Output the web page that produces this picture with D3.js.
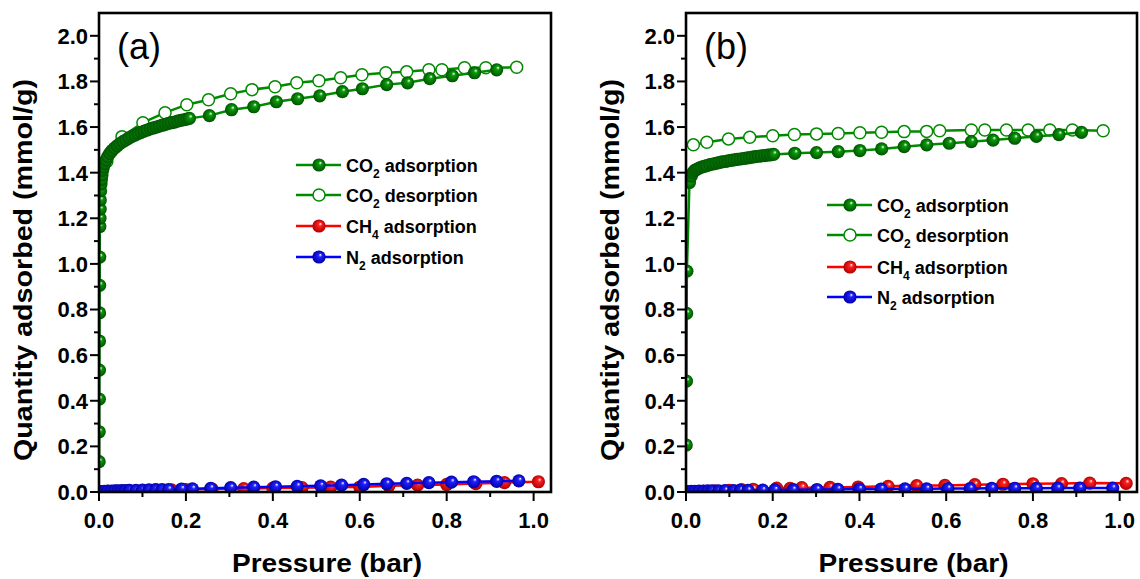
<!DOCTYPE html>
<html>
<head>
<meta charset="utf-8">
<script src="https://cdn.jsdelivr.net/npm/d3@7"></script>
<style>
    body { margin: 0; background: #fff; }
    svg text { font-family: "Liberation Sans", Arial, sans-serif; }
</style>
</head>
<body>
<svg id="chart" width="1140" height="579"></svg>
<script>
// ---- values: [pressure (bar), quantity (mmol/g)] ----
var xTicks = [0, 0.2, 0.4, 0.6, 0.8, 1.0];
var yTicks = [0, 0.2, 0.4, 0.6, 0.8, 1.0, 1.2, 1.4, 1.6, 1.8, 2.0];

// panel (a)
var aCO2Ads = [
    [0.0003,0.133],[0.0005,0.264],[0.0007,0.407],[0.0009,0.534],[0.0011,0.662],[0.0013,0.785],
    [0.0015,0.906],[0.0017,1.030],[0.0019,1.164],[0.0022,1.20],[0.0026,1.24],[0.003,1.28],
    [0.0036,1.32],[0.0045,1.35],[0.0055,1.37],[0.0068,1.39],[0.0082,1.41],[0.010,1.425],
    [0.013,1.44],[0.016,1.455],[0.020,1.47],[0.025,1.485],[0.030,1.497],[0.036,1.508],
    [0.042,1.518],[0.048,1.527],[0.055,1.536],[0.062,1.544],[0.069,1.552],[0.076,1.559],
    [0.083,1.565],[0.090,1.571],[0.097,1.577],[0.104,1.582],[0.111,1.587],[0.118,1.592],
    [0.125,1.596],[0.132,1.600],[0.139,1.604],[0.146,1.608],[0.153,1.612],[0.160,1.616],
    [0.167,1.619],[0.174,1.622],[0.181,1.626],[0.188,1.629],[0.195,1.632],[0.202,1.635],
    [0.208,1.638],[0.254,1.650],[0.305,1.676],[0.356,1.689],[0.408,1.711],[0.457,1.724],
    [0.508,1.737],[0.560,1.755],[0.606,1.768],[0.662,1.786],[0.710,1.794],[0.761,1.812],
    [0.813,1.825],[0.864,1.838],[0.915,1.851]
];
var aCO2Des = [
    [0.018,1.449],[0.053,1.558],[0.101,1.619],[0.152,1.663],[0.202,1.698],[0.252,1.720],
    [0.303,1.746],[0.352,1.764],[0.405,1.777],[0.455,1.794],[0.506,1.803],[0.556,1.816],
    [0.605,1.829],[0.660,1.838],[0.708,1.842],[0.759,1.851],[0.789,1.851],[0.841,1.860],
    [0.890,1.860],[0.961,1.862]
];
var aCH4 = [
    [0.005,0.001],[0.02,0.003],[0.04,0.004],[0.067,0.005],[0.10,0.006],[0.133,0.008],
    [0.167,0.009],[0.20,0.011],[0.26,0.013],[0.333,0.015],[0.40,0.017],[0.467,0.019],
    [0.533,0.021],[0.60,0.022],[0.667,0.027],[0.733,0.030],[0.80,0.033],[0.867,0.037],
    [0.933,0.041],[1.011,0.045]
];
var aN2 = [
    [0.004,0.002],[0.012,0.003],[0.02,0.004],[0.028,0.004],[0.036,0.005],[0.044,0.005],
    [0.052,0.006],[0.06,0.006],[0.07,0.007],[0.085,0.007],[0.10,0.008],[0.115,0.009],
    [0.13,0.010],[0.145,0.010],[0.16,0.011],[0.19,0.013],[0.215,0.014],[0.257,0.016],
    [0.303,0.019],[0.356,0.021],[0.406,0.023],[0.456,0.025],[0.51,0.027],[0.558,0.030],
    [0.609,0.033],[0.662,0.036],[0.708,0.038],[0.759,0.041],[0.811,0.043],[0.862,0.045],
    [0.915,0.047],[0.966,0.049]
];

// panel (b)
var bCO2Ads = [
    [0.0005,0.206],[0.001,0.486],[0.0015,0.783],[0.002,0.968],[0.008,1.357],[0.012,1.385],
    [0.016,1.400],[0.020,1.410],[0.025,1.415],[0.030,1.420],[0.036,1.424],[0.042,1.428],
    [0.048,1.431],[0.055,1.435],[0.062,1.438],[0.069,1.441],[0.076,1.444],[0.083,1.447],
    [0.090,1.449],[0.097,1.452],[0.104,1.454],[0.111,1.456],[0.118,1.458],[0.125,1.460],
    [0.132,1.462],[0.139,1.464],[0.146,1.466],[0.153,1.468],[0.160,1.470],[0.167,1.472],
    [0.174,1.474],[0.181,1.475],[0.188,1.477],[0.195,1.478],[0.202,1.480],[0.251,1.485],
    [0.301,1.488],[0.351,1.492],[0.401,1.497],[0.451,1.504],[0.503,1.514],[0.555,1.522],
    [0.607,1.529],[0.658,1.536],[0.708,1.543],[0.758,1.551],[0.808,1.559],[0.860,1.567],
    [0.912,1.577]
];
var bCO2Des = [
    [0.017,1.522],[0.048,1.533],[0.098,1.548],[0.147,1.555],[0.200,1.562],[0.250,1.567],
    [0.301,1.570],[0.351,1.572],[0.401,1.575],[0.451,1.577],[0.503,1.580],[0.555,1.581],
    [0.585,1.584],[0.658,1.587],[0.689,1.587],[0.739,1.587],[0.789,1.587],[0.839,1.587],
    [0.891,1.587],[0.962,1.584]
];
var bCH4 = [
    [0.005,0.001],[0.02,0.002],[0.04,0.003],[0.067,0.005],[0.10,0.007],[0.128,0.010],
    [0.155,0.012],[0.209,0.017],[0.24,0.016],[0.267,0.019],[0.332,0.020],[0.397,0.022],
    [0.466,0.025],[0.532,0.028],[0.597,0.029],[0.666,0.032],[0.731,0.034],[0.80,0.036],
    [0.866,0.037],[0.931,0.039],[1.015,0.038]
];
var bN2 = [
    [0.004,0.002],[0.012,0.003],[0.02,0.003],[0.03,0.004],[0.04,0.004],[0.05,0.005],
    [0.06,0.005],[0.075,0.005],[0.09,0.006],[0.11,0.006],[0.125,0.007],[0.143,0.007],
    [0.177,0.008],[0.205,0.009],[0.247,0.010],[0.302,0.011],[0.35,0.012],[0.40,0.013],
    [0.45,0.013],[0.505,0.014],[0.555,0.014],[0.604,0.015],[0.655,0.015],[0.705,0.016],
    [0.758,0.016],[0.808,0.016],[0.857,0.017],[0.908,0.017],[0.984,0.017]
];

var GREEN = "#008a00", RED = "#ff0000", BLUE = "#0000ff";

var svg = d3.select("#chart");
var defs = svg.append("defs");

// shaded "ball" symbols
function ball(id, base, dark) {
    var g = defs.append("radialGradient").attr("id", id)
        .attr("cx", 0.5).attr("cy", 0.5).attr("r", 0.5)
        .attr("fx", 0.62).attr("fy", 0.32);
    g.append("stop").attr("offset", "0%").attr("stop-color", "#ffffff");
    g.append("stop").attr("offset", "28%").attr("stop-color", base);
    g.append("stop").attr("offset", "100%").attr("stop-color", dark);
}
ball("gGreen", "#0a9a0a", "#005200");
ball("gRed", "#ff2020", "#b00000");
ball("gBlue", "#2020ff", "#0000a8");

function drawPanel(p) {
    var x = d3.scaleLinear().domain([0, 1.04]).range([p.left, p.right]);
    var y = d3.scaleLinear().domain([0, 2.1]).range([p.bottom, p.top]);

    var clipId = "clip" + p.name;
    defs.append("clipPath").attr("id", clipId).append("rect")
        .attr("x", p.left).attr("y", p.top)
        .attr("width", p.right - p.left).attr("height", p.bottom - p.top);

    var plot = svg.append("g").attr("clip-path", "url(#" + clipId + ")");
    var line = d3.line().x(function(d) { return x(d[0]); }).y(function(d) { return y(d[1]); });

    // legend order
    var series = [
        {name: ["CO", "2", " adsorption"], data: p.ads, color: GREEN, fill: "url(#gGreen)"},
        {name: ["CO", "2", " desorption"], data: p.des, color: GREEN, fill: "#fff", open: true},
        {name: ["CH", "4", " adsorption"], data: p.ch4, color: RED, fill: "url(#gRed)"},
        {name: ["N", "2", " adsorption"], data: p.n2, color: BLUE, fill: "url(#gBlue)"}
    ];
    // drawing order: desorption underneath adsorption
    [series[1], series[0], series[2], series[3]].forEach(function(s) {
        plot.append("path").datum(s.data).attr("d", line)
            .attr("fill", "none").attr("stroke", s.color).attr("stroke-width", 2.5);
        plot.selectAll(null).data(s.data).enter().append("circle")
            .attr("cx", function(d) { return x(d[0]); })
            .attr("cy", function(d) { return y(d[1]); })
            .attr("r", s.open ? 6 : 6.6)
            .attr("fill", s.fill)
            .attr("stroke", s.open ? s.color : "none")
            .attr("stroke-width", 1.5);
    });

    // axes
    var yMinor = d3.range(0.1, 2.05, 0.2);
    var xMinor = d3.range(0.1, 1.04, 0.2);
    var ax = svg.append("g").attr("stroke", "#000").attr("stroke-width", 2);
    ax.selectAll(null).data(yTicks).enter().append("line")
        .attr("x1", p.left - 9).attr("x2", p.left)
        .attr("y1", function(d) { return y(d); }).attr("y2", function(d) { return y(d); });
    ax.selectAll(null).data(yMinor).enter().append("line")
        .attr("x1", p.left - 5).attr("x2", p.left)
        .attr("y1", function(d) { return y(d); }).attr("y2", function(d) { return y(d); });
    ax.selectAll(null).data(xTicks).enter().append("line")
        .attr("y1", p.bottom).attr("y2", p.bottom + 9)
        .attr("x1", function(d) { return x(d); }).attr("x2", function(d) { return x(d); });
    ax.selectAll(null).data(xMinor).enter().append("line")
        .attr("y1", p.bottom).attr("y2", p.bottom + 5)
        .attr("x1", function(d) { return x(d); }).attr("x2", function(d) { return x(d); });

    svg.append("rect")
        .attr("x", p.left).attr("y", p.top)
        .attr("width", p.right - p.left).attr("height", p.bottom - p.top)
        .attr("fill", "none").attr("stroke", "#000").attr("stroke-width", 2.6);

    svg.selectAll(null).data(yTicks).enter().append("text")
        .attr("x", p.left - 11).attr("y", function(d) { return y(d); })
        .attr("dy", "0.36em").attr("text-anchor", "end")
        .style("font-size", "22px").style("font-weight", "bold")
        .text(function(d) { return d3.format(".1f")(d); });
    svg.selectAll(null).data(xTicks).enter().append("text")
        .attr("x", function(d) { return x(d); }).attr("y", p.bottom + 36)
        .attr("text-anchor", "middle")
        .style("font-size", "22px").style("font-weight", "bold")
        .text(function(d) { return d3.format(".1f")(d); });

    svg.append("text")
        .attr("x", (p.left + p.right) / 2 + 2).attr("y", 572)
        .attr("text-anchor", "middle")
        .attr("textLength", 190).attr("lengthAdjust", "spacingAndGlyphs")
        .style("font-size", "25px").style("font-weight", "bold")
        .text("Pressure (bar)");
    svg.append("text")
        .attr("transform", "translate(" + (p.left - 67) + ",270) rotate(-90)")
        .attr("text-anchor", "middle")
        .attr("textLength", 382).attr("lengthAdjust", "spacingAndGlyphs")
        .style("font-size", "25px").style("font-weight", "bold")
        .text("Quantity adsorbed (mmol/g)");

    svg.append("text")
        .attr("x", p.left + 18).attr("y", 59)
        .style("font-size", "36px")
        .text(p.label);

    // legend
    var lg = svg.append("g").attr("transform", "translate(" + p.legX + "," + p.legY + ")");
    series.forEach(function(s, i) {
        var row = lg.append("g").attr("transform", "translate(0," + p.legRows[i] + ")");
        row.append("line").attr("x1", 0).attr("x2", 45)
            .attr("stroke", s.color).attr("stroke-width", 2.5);
        row.append("circle").attr("cx", 23).attr("r", s.open ? 6 : 6.6)
            .attr("fill", s.fill).attr("stroke", s.open ? s.color : "none")
            .attr("stroke-width", 1.5);
        var t = row.append("text").attr("x", 50).attr("y", 6.5)
            .style("font-size", "18px").style("font-weight", "bold");
        t.append("tspan").text(s.name[0]);
        t.append("tspan").attr("dy", 6).style("font-size", "12px").text(s.name[1]);
        t.append("tspan").attr("dy", -6).text(s.name[2]);
    });
}

drawPanel({name: "a", label: "(a)", left: 99, right: 551, top: 13, bottom: 492,
           ads: aCO2Ads, des: aCO2Des, ch4: aCH4, n2: aN2,
           legX: 296, legY: 165, legRows: [0, 30, 61, 92]});
drawPanel({name: "b", label: "(b)", left: 686, right: 1137, top: 13, bottom: 492,
           ads: bCO2Ads, des: bCO2Des, ch4: bCH4, n2: bN2,
           legX: 827, legY: 205, legRows: [0, 30, 62, 92]});
</script>
</body>
</html>
